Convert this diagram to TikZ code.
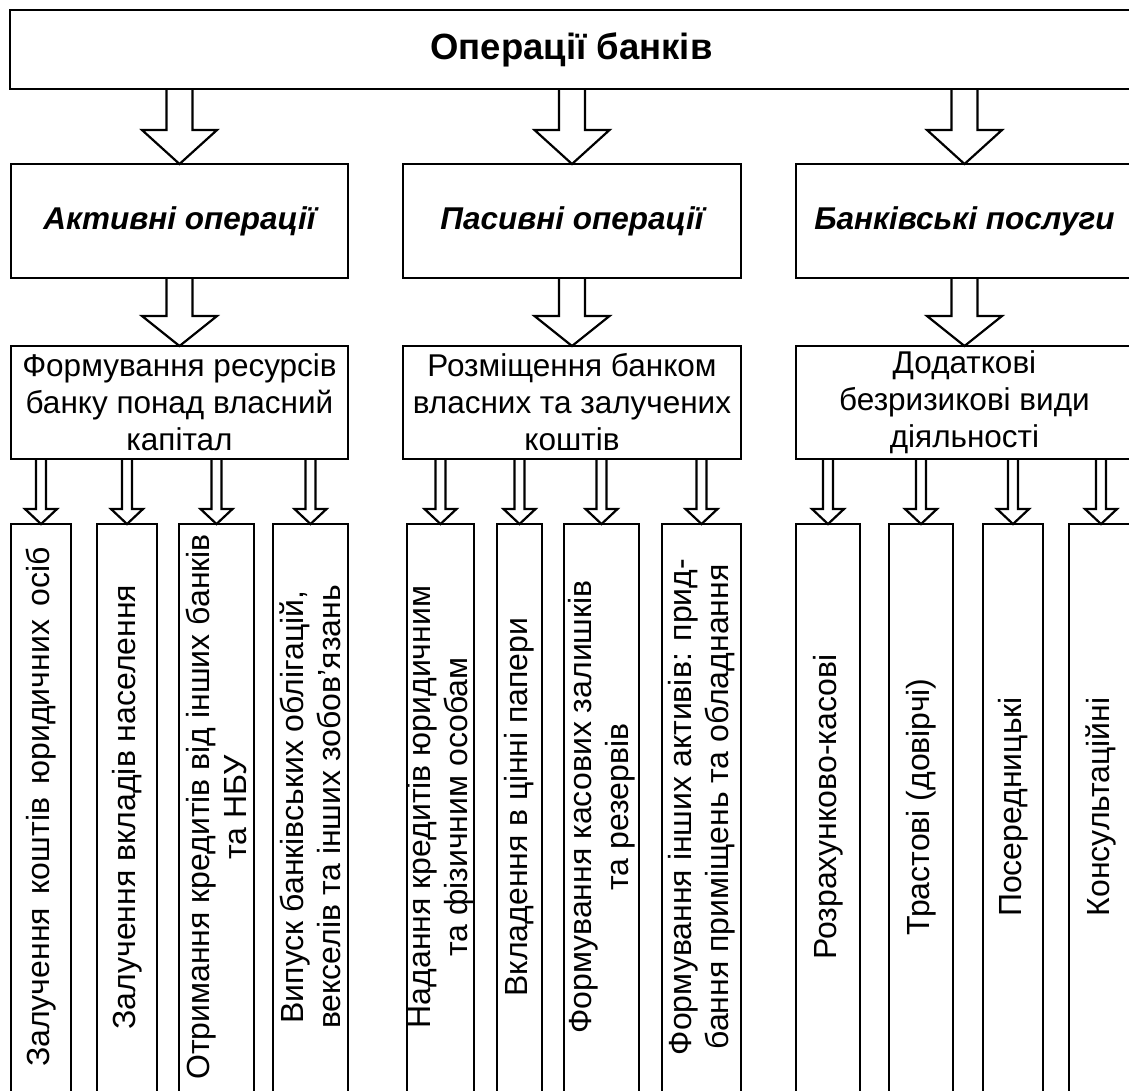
\documentclass[tikz,border=0pt]{standalone}
\usepackage{fontspec}
\setmainfont{Liberation Sans}
\usetikzlibrary{calc}

\tikzset{
  box/.style={draw, line width=2.2pt, rectangle, inner sep=0pt, outer sep=0pt,
              anchor=north west, align=center},
  arrowline/.style={draw, line width=2.2pt, line join=miter},
  titletext/.style={font=\fontsize{36.5}{42}\selectfont\bfseries},
  headtext/.style={font=\fontsize{31.5}{37}\selectfont\bfseries\itshape},
  bodytext/.style={font=\fontsize{31.5}{37}\selectfont},
  leaftext/.style={rotate=90, align=center, inner sep=0pt,
                   font=\fontsize{32}{37}\selectfont},
}

% hollow block arrow from the bottom edge of #1 to the top of #2
% #3 shaft half-width, #4 head half-width, #5 head length
\newcommand\blockarrow[5]{%
  \draw[arrowline] let \p1=(#2.north), \p2=(#1.south) in
    (\x1-#3,\y2) -- (\x1-#3,\y1+#5) -- (\x1-#4,\y1+#5) -- (\x1,\y1)
    -- (\x1+#4,\y1+#5) -- (\x1+#3,\y1+#5) -- (\x1+#3,\y2);}

\begin{document}
\begin{tikzpicture}[x=1pt, y=-1pt]
  \useasboundingbox (0,0) rectangle (1129,1090);
  \fill[white] (0,0) rectangle (1129,1090);
  \clip (0,0) rectangle (1129,1090);

  % top level
  \node[box, titletext, minimum width=1123pt, minimum height=79pt] (top) at (10,10)
    {Операції банків};

  % kinds of operations
  \node[box, headtext, minimum width=337pt, minimum height=114pt] (act) at (11,164)
    {Активні операції};
  \node[box, headtext, minimum width=338pt, minimum height=114pt] (pas) at (403,164)
    {Пасивні операції};
  \node[box, headtext, minimum width=337pt, minimum height=114pt] (serv) at (796,164)
    {Банківські послуги};

  % their content
  \node[box, bodytext, minimum width=337pt, minimum height=113pt] (form) at (11,346)
    {Формування ресурсів\\банку понад власний\\капітал};
  \node[box, bodytext, minimum width=338pt, minimum height=113pt] (place) at (403,346)
    {Розміщення банком\\власних та залучених\\коштів};
  \node[box, bodytext, minimum width=337pt, minimum height=113pt] (extra) at (796,346)
    {Додаткові\\безризикові види\\діяльності};

  % leaf boxes (run past the lower edge)
  \foreach \n/\x/\w in {a1/11/60, a2/97/60, a3/179/75, a4/273/75,
                        p1/407/67, p2/497/45, p3/564/75, p4/662/79,
                        s1/796/64, s2/889/64, s3/983/60, s4/1069/64}
    \node[box, minimum width=\w pt, minimum height=600pt] (\n) at (\x,524) {};

  % leaf texts
  \node[leaftext] (ta1) at ($(a1.north)+(0,283)$) {\spaceskip=13.5pt Залучення коштів юридичних осіб};
  \node[leaftext] (ta2) at ($(a2.north)+(0,283)$) {Залучення вкладів населення};
  \node[leaftext] (ta3) at ($(a3.north)+(0,283)$) {Отримання кредитів від інших банків\\та НБУ};
  \node[leaftext] (ta4) at ($(a4.north)+(0,283)$) {Випуск банківських облігацій,\\векселів та інших зобов'язань};

  \node[leaftext] (tp1) at ($(p1.north)+(0,283)$) {Надання кредитів юридичним\\та фізичним особам};
  \node[leaftext] (tp2) at ($(p2.north)+(0,283)$) {Вкладення в цінні папери};
  \node[leaftext] (tp3) at ($(p3.north)+(0,283)$) {Формування касових залишків\\та резервів};
  \node[leaftext] (tp4) at ($(p4.north)+(0,283)$) {Формування інших активів: прид-\\бання приміщень та обладнання};

  \node[leaftext] (ts1) at ($(s1.north)+(0,283)$) {Розрахунково-касові};
  \node[leaftext] (ts2) at ($(s2.north)+(0,283)$) {Трастові (довірчі)};
  \node[leaftext] (ts3) at ($(s3.north)+(0,283)$) {Посередницькі};
  \node[leaftext] (ts4) at ($(s4.north)+(0,283)$) {Консультаційні};

  % big arrows
  \foreach \c in {act,pas,serv}
    \blockarrow{top}{\c}{13pt}{37.5pt}{34pt};
  \blockarrow{act}{form}{13pt}{37.5pt}{30pt}
  \blockarrow{pas}{place}{13pt}{37.5pt}{30pt}
  \blockarrow{serv}{extra}{13pt}{37.5pt}{30pt}

  % small arrows
  \foreach \c in {a1,a2,a3,a4} \blockarrow{form}{\c}{5pt}{16pt}{15pt};
  \foreach \c in {p1,p2,p3,p4} \blockarrow{place}{\c}{5pt}{16pt}{15pt};
  \foreach \c in {s1,s2,s3,s4} \blockarrow{extra}{\c}{5pt}{16pt}{15pt};
\end{tikzpicture}
\end{document}
